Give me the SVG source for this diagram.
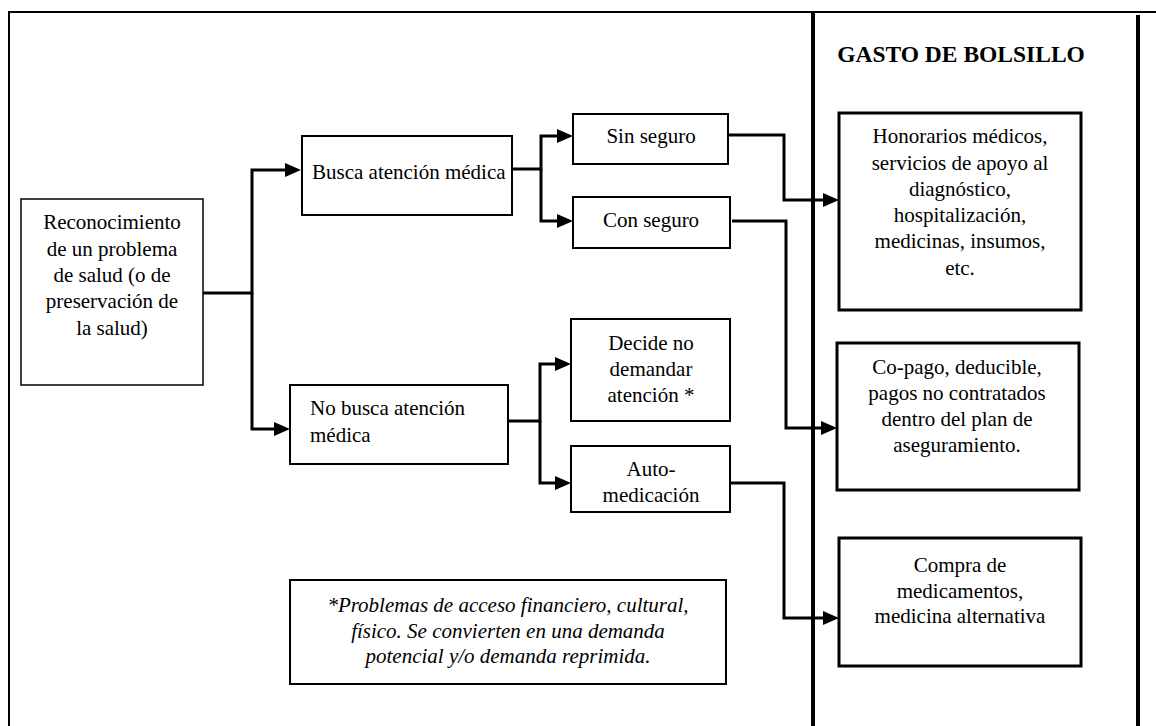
<svg xmlns="http://www.w3.org/2000/svg" width="1156" height="726" viewBox="0 0 1156 726" font-family="'Liberation Serif', 'Times New Roman', Times, 'DejaVu Serif', serif">
<style>
text{font-size:21px;fill:#000}
.c{text-anchor:middle}
.box{fill:#fff;stroke:#000;stroke-width:2}
.bold{fill:#fff;stroke:#000;stroke-width:3}
.conn{fill:none;stroke:#000;stroke-width:3}
.frame{fill:none;stroke:#000;stroke-width:2}
.sep{fill:none;stroke:#000;stroke-width:4}
</style>
<defs>
<marker id="arr" markerUnits="userSpaceOnUse" markerWidth="16" markerHeight="14" refX="10" refY="7" orient="auto">
<path d="M0,0 L16,7 L0,14 z" fill="#000"/>
</marker>
</defs>
<rect width="1156" height="726" fill="#fff"/>
<g id="frame">
<path class="frame" d="M9,726 L9,12 L1156,12"/>
<path class="sep" d="M813,12 L813,726"/>
<path class="sep" d="M1138,15 L1138,726"/>
<text x="961" y="62" class="c" font-weight="bold" style="font-size:23.5px">GASTO DE BOLSILLO</text>
</g>
<g id="connectors">
<path class="conn" d="M203,293 L252,293 L252,170 L295,170" marker-end="url(#arr)"/>
<path class="conn" d="M252,293 L252,429 L284,429" marker-end="url(#arr)"/>
<path class="conn" d="M512,169 L541,169 L541,136 L567,136" marker-end="url(#arr)"/>
<path class="conn" d="M541,169 L541,221 L567,221" marker-end="url(#arr)"/>
<path class="conn" d="M508,421 L540,421 L540,364 L565,364" marker-end="url(#arr)"/>
<path class="conn" d="M540,421 L540,483 L565,483" marker-end="url(#arr)"/>
<path class="conn" d="M728,135 L784,135 L784,200 L833,200" marker-end="url(#arr)"/>
<path class="conn" d="M732,221 L786,221 L786,428 L831,428" marker-end="url(#arr)"/>
<path class="conn" d="M729,483 L784,483 L784,618 L833,618" marker-end="url(#arr)"/>
</g>
<g id="reconocimiento">
<rect class="box" x="21" y="199" width="182" height="186" style="stroke-width:1.5"/>
<text class="c" x="112" y="229">Reconocimiento</text>
<text class="c" x="112" y="256">de un problema</text>
<text class="c" x="112" y="282">de salud (o de</text>
<text class="c" x="112" y="308">preservación de</text>
<text class="c" x="112" y="335">la salud)</text>
</g>
<g id="busca">
<rect class="box" x="302" y="136" width="210" height="79"/>
<text x="312" y="179">Busca atención médica</text>
</g>
<g id="nobusca">
<rect class="box" x="290" y="385" width="218" height="79"/>
<text x="310" y="415">No busca atención</text>
<text x="310" y="442">médica</text>
</g>
<g id="sinseguro">
<rect class="box" x="573" y="114" width="155" height="50"/>
<text class="c" x="651" y="143">Sin seguro</text>
</g>
<g id="conseguro">
<rect class="box" x="573" y="197" width="157" height="51"/>
<text class="c" x="651" y="227">Con seguro</text>
</g>
<g id="decide">
<rect class="box" x="571" y="319" width="159" height="102"/>
<text class="c" x="651" y="350">Decide no</text>
<text class="c" x="651" y="376">demandar</text>
<text class="c" x="651" y="402">atención *</text>
</g>
<g id="auto">
<rect class="box" x="571" y="446" width="159" height="66"/>
<text class="c" x="651" y="476">Auto-</text>
<text class="c" x="651" y="502">medicación</text>
</g>
<g id="nota">
<rect class="box" x="290" y="580" width="436" height="104"/>
<text class="c" x="508" y="612" font-style="italic">*Problemas de acceso financiero, cultural,</text>
<text class="c" x="508" y="638" font-style="italic">físico. Se convierten en una demanda</text>
<text class="c" x="508" y="663" font-style="italic">potencial y/o demanda reprimida.</text>
</g>
<g id="honorarios">
<rect class="bold" x="839" y="113" width="242" height="197"/>
<text class="c" x="960" y="143">Honorarios médicos,</text>
<text class="c" x="960" y="170">servicios de apoyo al</text>
<text class="c" x="960" y="196">diagnóstico,</text>
<text class="c" x="960" y="222">hospitalización,</text>
<text class="c" x="960" y="248">medicinas, insumos,</text>
<text class="c" x="960" y="275">etc.</text>
</g>
<g id="copago">
<rect class="bold" x="837" y="343" width="242" height="147"/>
<text class="c" x="957" y="374">Co-pago, deducible,</text>
<text class="c" x="957" y="400">pagos no contratados</text>
<text class="c" x="957" y="426">dentro del plan de</text>
<text class="c" x="957" y="452">aseguramiento.</text>
</g>
<g id="compra">
<rect class="bold" x="839" y="538" width="242" height="128"/>
<text class="c" x="960" y="572">Compra de</text>
<text class="c" x="960" y="598">medicamentos,</text>
<text class="c" x="960" y="623">medicina alternativa</text>
</g>
</svg>
